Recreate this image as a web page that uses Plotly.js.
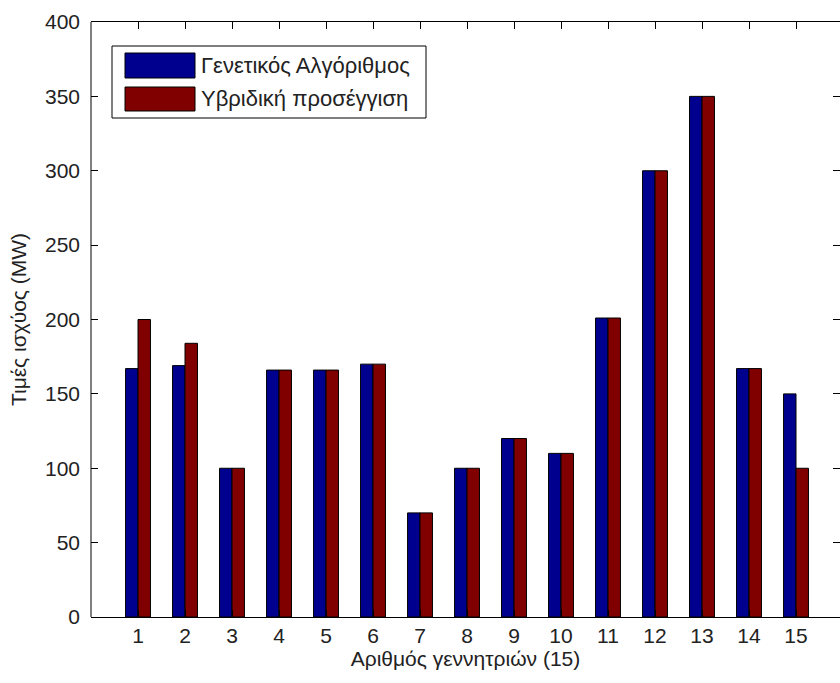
<!DOCTYPE html>
<html>
<head>
<meta charset="utf-8">
<script src="https://cdn.plot.ly/plotly-3.0.1.min.js"></script>
<style>
html,body{margin:0;padding:0;overflow:hidden;background:#fff;width:840px;height:683px;}
#chart{width:840px;height:683px;}
</style>
</head>
<body>
<div id="chart"></div>
<script>
// ---- data ----
const generators = [1,2,3,4,5,6,7,8,9,10,11,12,13,14,15];
const seriesNames = ["Γενετικός Αλγόριθμος", "Υβριδική προσέγγιση"];
const geneticValues = [167,169,100,166,166,170,70,100,120,110,201,300,350,167,150];
const hybridValues  = [200,184,100,166,166,170,70,100,120,110,201,300,350,167,100];
const yTicks = [0,50,100,150,200,250,300,350,400];
const xAxisTitle = "Αριθμός γεννητριών (15)";
const yAxisTitle = "Τιμές ισχύος (MW)";
const colors = ["#00008F", "#800000"];

// ---- layout helpers (pixel -> paper) ----
const W = 840, H = 683;
const M = {l:91, r:0, t:22, b:66};
const PW = W - M.l - M.r, PH = H - M.t - M.b;
const px = x => (x - M.l) / PW;
const py = y => (H - M.b - y) / PH;
// the original axes box continues a little past the right edge of the picture
const xMax = PW / 47;

const FONT = "Liberation Sans, Arial, sans-serif";
const TXT = "#222222";

const traces = [geneticValues, hybridValues].map((vals, i) => ({
  type: "bar",
  x: generators,
  y: vals,
  name: seriesNames[i],
  marker: {color: colors[i], line: {color: "#000", width: 1}},
  showlegend: false,
  hoverinfo: "x+y+name"
}));

const shapes = [
  // left axis line
  {type:"line", xref:"paper", yref:"paper", x0:0, x1:0, y0:0, y1:1,
   line:{color:"#000", width:1}, layer:"above"},
  // legend box and swatches
  {type:"rect", xref:"paper", yref:"paper", x0:px(112), x1:px(426), y0:py(118), y1:py(46),
   line:{color:"#000", width:1}, fillcolor:"#fff", layer:"above"},
  {type:"rect", xref:"paper", yref:"paper", x0:px(125), x1:px(195), y0:py(78), y1:py(53),
   line:{color:"#000", width:1}, fillcolor:colors[0], layer:"above"},
  {type:"rect", xref:"paper", yref:"paper", x0:px(125), x1:px(195), y0:py(111), y1:py(87),
   line:{color:"#000", width:1}, fillcolor:colors[1], layer:"above"}
];
const annotations = [
  {xref:"paper", yref:"paper", x:px(199), y:py(66), xanchor:"left", yanchor:"middle",
   text:seriesNames[0], showarrow:false, font:{family:FONT, size:22, color:TXT}},
  {xref:"paper", yref:"paper", x:px(199), y:py(99), xanchor:"left", yanchor:"middle",
   text:seriesNames[1], showarrow:false, font:{family:FONT, size:22, color:TXT}}
];

const layout = {
  width: W, height: H,
  margin: M,
  paper_bgcolor: "#fff", plot_bgcolor: "#fff",
  font: {family: FONT, size: 21, color: TXT},
  barmode: "group",
  bargap: 0.47,
  bargroupgap: 0,
  showlegend: false,
  xaxis: {
    range: [0, xMax],
    tickvals: generators,
    ticktext: generators.map(String),
    ticks: "inside", ticklen: 7, tickcolor: "#000",
    showline: true, linecolor: "#000", linewidth: 1,
    mirror: "ticks",
    showgrid: false, zeroline: false,
    tickfont: {family: FONT, size: 21, color: TXT},
    title: {text: xAxisTitle, font: {family: FONT, size: 21, color: TXT}, standoff: 5}
  },
  yaxis: {
    range: [0, 400],
    tickvals: yTicks,
    ticks: "inside", ticklen: 7, tickcolor: "#000",
    showline: false,
    mirror: "ticks",
    ticklabelstandoff: 10,
    showgrid: false, zeroline: false,
    tickfont: {family: FONT, size: 21, color: TXT},
    title: {text: yAxisTitle, font: {family: FONT, size: 21, color: TXT}, standoff: 12}
  },
  shapes: shapes,
  annotations: annotations
};

Plotly.newPlot("chart", traces, layout, {displayModeBar: false, staticPlot: true});
</script>
</body>
</html>
